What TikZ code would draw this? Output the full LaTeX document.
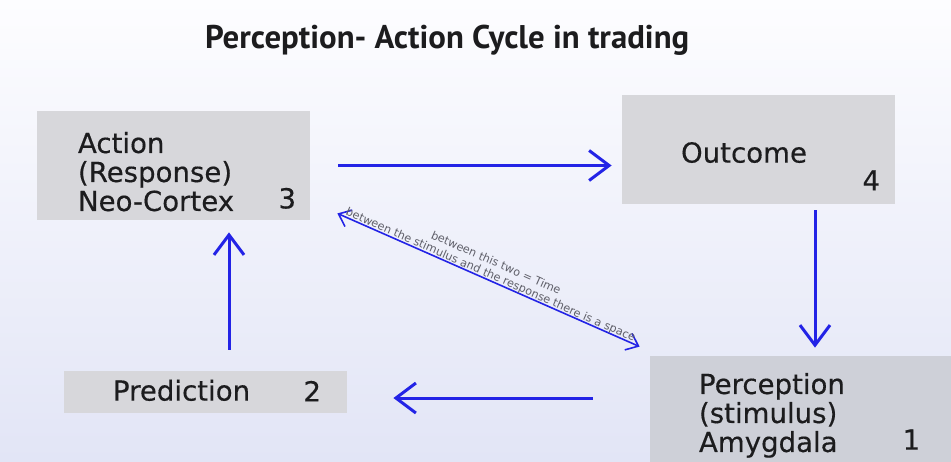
\documentclass[tikz,border=0pt]{standalone}
\usepackage{fontspec}
\setmainfont{DejaVu Sans}
\newfontfamily\headfont{PT Sans}
\newfontfamily\boxfont{DejaVu Sans}[FakeBold=0.4]
\usetikzlibrary{arrows.meta,positioning}
\definecolor{cyc}{RGB}{35,35,230}
\definecolor{boxgray}{RGB}{215,215,219}
\definecolor{pergray}{RGB}{206,208,216}
\definecolor{bgtop}{RGB}{253,253,255}
\definecolor{bgbot}{RGB}{226,229,246}
\definecolor{ink}{RGB}{28,28,30}
\definecolor{note}{RGB}{95,95,105}

\begin{document}
\begin{tikzpicture}[x=0.5pt,y=-0.5pt,
  flow/.style={draw=cyc,line width=1.5pt,-{Straight Barb[length=10pt,width=15pt]}},
  box/.style={rectangle,fill=boxgray,inner sep=0pt},
  txt/.style={inner sep=0pt,align=left,text=ink,font=\boxfont\fontsize{13.8}{14.5}\selectfont},
  gap/.style={sloped,above=-0.6pt,inner sep=0pt,align=center,text=note,font=\fontsize{5.6}{6.5}\selectfont}]

\shade[top color=bgtop,bottom color=bgbot] (0,0) rectangle (951,461);
\useasboundingbox (0,0) rectangle (951,461);

\node[font=\headfont\bfseries\fontsize{16.4}{19}\selectfont,text=ink,anchor=base west] (title) at (198,48)
  {Perception- Action Cycle in trading};

\node[box,minimum width=136.5pt,minimum height=54.5pt] (act) at (173.5,165.5) {};
\node[box,minimum width=136.5pt,minimum height=54.5pt] (out) at (758.5,149.5) {};
\node[box,fill=pergray,minimum width=155pt,minimum height=55pt] (per) at (805,411) {};
\node[box,minimum width=141.5pt,minimum height=21pt] (pre) at (205.5,392) {};

\node[txt,anchor=north west] (acttxt) at ([shift={(41,21)}]act.north west) {Action\\(Response)\\Neo-Cortex};
\node[txt,anchor=base west] (outtxt) at ([shift={(59,68)}]out.north west) {Outcome};
\node[txt,anchor=north west] (pertxt) at ([shift={(49,17)}]per.north west) {Perception\\(stimulus)\\Amygdala};
\node[txt,anchor=base west] (pretxt) at ([shift={(49,30)}]pre.north west) {Prediction};

\node[txt,anchor=base east] (n1) at ([shift={(271,94)}]per.north west) {1};
\node[txt,anchor=base east] (n2) at ([shift={(-26,-12)}]pre.south east) {2};
\node[txt,anchor=base east] (n3) at ([shift={(-14,-12)}]act.south east) {3};
\node[txt,anchor=base east] (n4) at ([shift={(-15,-14)}]out.south east) {4};

\draw[flow] ([shift={(28,0)}]act.east) -- ([shift={(-10,0)}]act.east -| out.west);
\draw[flow] ([shift={(56.5,6)}]out.south) -- ([shift={(10,-8)}]per.north);
\draw[flow] ([shift={(-57,6)}]per.west |- pre.east) -- ([shift={(46,6)}]pre.east);
\draw[flow] ([shift={(23.5,-21)}]pre.north) -- ([shift={(55.5,12)}]act.south);

\draw[draw=cyc,line width=0.8pt,{Straight Barb[length=5.5pt,width=9pt]}-{Straight Barb[length=5.5pt,width=9pt]}]
  ([shift={(27,-7)}]act.south east) -- node[gap] (space)
  {between this two = Time\\between the stimulus and the response there is a space}
  ([shift={(-10,-9)}]per.north west);
\end{tikzpicture}
\end{document}
